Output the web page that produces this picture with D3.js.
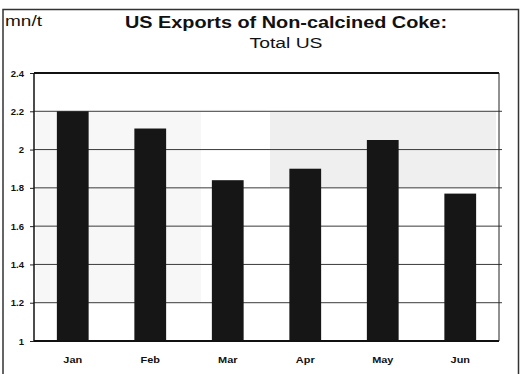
<!DOCTYPE html>
<html>
<head>
<meta charset="utf-8">
<script src="https://cdn.jsdelivr.net/npm/d3@7"></script>
<style>
  html, body { margin: 0; padding: 0; background: #fff; }
  svg { display: block; }
  text { font-family: "Liberation Sans", Arial, sans-serif; fill: #111; }
</style>
</head>
<body>
<svg id="chart" width="520" height="374"></svg>
<script>
const months = ["Jan", "Feb", "Mar", "Apr", "May", "Jun"];
const exportsMnT = [2.2, 2.11, 1.84, 1.9, 2.05, 1.77];
const yTicks = [1, 1.2, 1.4, 1.6, 1.8, 2, 2.2, 2.4];
const titleLines = ["US Exports of Non-calcined Coke:", "Total US"];
const unitLabel = "mn/t";

const svg = d3.select("#chart");
const W = 520, H = 374;
const plot = { left: 34, right: 499, top: 73, bottom: 341 };

const x = d3.scaleBand().domain(months).range([plot.left, plot.right]).paddingInner(0.59).paddingOuter(0.295);
const y = d3.scaleLinear().domain([1, 2.4]).range([plot.bottom, plot.top]);

// outer frame
svg.append("path")
  .attr("d", `M3,${H} L3,9.5 L518.5,9.5 L518.5,${H}`)
  .attr("fill", "none").attr("stroke", "#333").attr("stroke-width", 1.5);

// faint scan shading
svg.append("rect")
  .attr("x", plot.left + 2).attr("y", y(2.2))
  .attr("width", 165).attr("height", y(1.2) - y(2.2))
  .attr("fill", "#f7f7f7");
svg.append("rect")
  .attr("x", 270).attr("y", y(2.2))
  .attr("width", plot.right - 3 - 270).attr("height", y(1.8) - y(2.2))
  .attr("fill", "#efefef");

// gridlines
svg.append("g").selectAll("line")
  .data(yTicks.filter(d => d > 1 && d < 2.4))
  .join("line")
  .attr("x1", plot.left).attr("x2", plot.right + 3)
  .attr("y1", d => y(d)).attr("y2", d => y(d))
  .attr("stroke", "#3a3a3a").attr("stroke-width", 1);

// y axis
const yAxis = d3.axisLeft(y).tickValues(yTicks)
  .tickFormat(d => d3.format("")(+d.toFixed(1)))
  .tickSize(4).tickPadding(6);
const gy = svg.append("g").attr("transform", `translate(${plot.left},0)`).call(yAxis);
gy.select(".domain").remove();
gy.selectAll(".tick line").attr("stroke", "#222");
gy.selectAll(".tick text")
  .style("font-family", "'Liberation Sans', Arial, sans-serif")
  .style("font-weight", "bold").style("font-size", "9.5px").attr("fill", "#111");

// bars
svg.append("g").selectAll("rect")
  .data(months.map((m, i) => ({ m, v: exportsMnT[i] })))
  .join("rect")
  .attr("x", d => x(d.m)).attr("width", x.bandwidth())
  .attr("y", d => y(d.v)).attr("height", d => y(1) - y(d.v))
  .attr("fill", "#161616");

// plot frame
svg.append("line").attr("x1", plot.left).attr("x2", plot.right).attr("y1", plot.top).attr("y2", plot.top)
  .attr("stroke", "#111").attr("stroke-width", 2);
svg.append("line").attr("x1", plot.left).attr("x2", plot.right).attr("y1", plot.bottom).attr("y2", plot.bottom)
  .attr("stroke", "#111").attr("stroke-width", 2);
svg.append("line").attr("x1", plot.left).attr("x2", plot.left).attr("y1", plot.top).attr("y2", plot.bottom)
  .attr("stroke", "#111").attr("stroke-width", 1.5);
svg.append("line").attr("x1", plot.right).attr("x2", plot.right).attr("y1", plot.top).attr("y2", plot.bottom)
  .attr("stroke", "#222").attr("stroke-width", 1);

// x axis labels
const xAxis = d3.axisBottom(x).tickSize(0).tickPadding(15);
const gx = svg.append("g").attr("transform", `translate(0,${plot.bottom})`).call(xAxis);
gx.select(".domain").remove();
gx.selectAll(".tick text")
  .style("font-family", "'Liberation Sans', Arial, sans-serif")
  .style("font-weight", "bold").style("font-size", "9.5px").attr("fill", "#111")
  .attr("transform", "scale(1.15,1)");

// titles
svg.append("text").attr("x", 286).attr("y", 28).attr("text-anchor", "middle")
  .attr("textLength", 322).attr("lengthAdjust", "spacingAndGlyphs")
  .style("font-weight", "bold").style("font-size", "16.5px").text(titleLines[0]);
svg.append("text").attr("x", 286).attr("y", 48).attr("text-anchor", "middle")
  .attr("textLength", 73).attr("lengthAdjust", "spacingAndGlyphs")
  .style("font-size", "15.5px").text(titleLines[1]);
svg.append("text").attr("x", 5).attr("y", 26)
  .attr("textLength", 37).attr("lengthAdjust", "spacingAndGlyphs")
  .style("font-size", "14px").text(unitLabel);
</script>
</body>
</html>
